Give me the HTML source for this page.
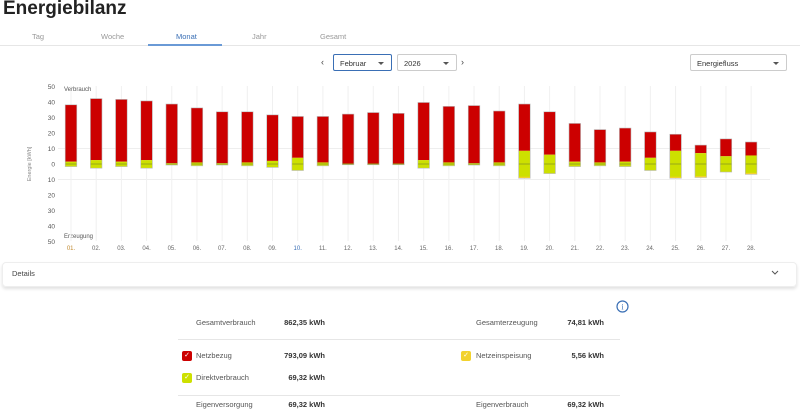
<!DOCTYPE html>
<html><head><meta charset="utf-8"><style>
body{margin:0;width:800px;height:413px;overflow:hidden;background:#fff;font-family:"Liberation Sans",sans-serif;position:relative;color:#333}
.a{position:absolute;white-space:nowrap}
.tab{font-size:7.5px;color:#999;top:32px}
.sel{position:absolute;height:17px;border:1px solid #ccc;border-radius:2px;font-size:7.5px;line-height:17px;padding-left:6px;box-sizing:border-box;color:#333}
.sel:after{content:"";position:absolute;right:7px;top:7px;border:3px solid transparent;border-top:3px solid #555}
.lab{font-size:7.5px;color:#555}
.val{font-size:7.5px;font-weight:bold;color:#333;text-align:right;width:100px}
.cb{position:absolute;width:10px;height:10px;border-radius:2px;color:#fff;font-size:7px;line-height:10px;text-align:center}
</style></head><body>
<div class="a" style="left:3px;top:-2px;font-size:19px;font-weight:bold;color:#222">Energiebilanz</div>
<div class="a tab" style="left:32px">Tag</div>
<div class="a tab" style="left:101px">Woche</div>
<div class="a tab" style="left:176px;color:#3a6fb5">Monat</div>
<div class="a tab" style="left:252px">Jahr</div>
<div class="a tab" style="left:320px">Gesamt</div>
<div class="a" style="left:0;top:45px;width:800px;height:1px;background:#e6e6e6"></div>
<div class="a" style="left:148px;top:44px;width:74px;height:2px;background:#6a9ad6"></div>
<div class="a" style="left:321px;top:57px;font-size:9px;color:#444">‹</div>
<div class="sel" style="left:333px;top:54px;width:59px;border-color:#3a6fb5">Februar</div>
<div class="sel" style="left:397px;top:54px;width:60px">2026</div>
<div class="a" style="left:461px;top:57px;font-size:9px;color:#444">›</div>
<div class="sel" style="left:690px;top:54px;width:97px">Energiefluss</div>
<svg class="a" style="left:0;top:0" width="800" height="260" id="ch"></svg>
<div class="a" style="left:2px;top:262px;width:793px;height:23px;border:1px solid #eee;border-radius:4px;box-shadow:0 2px 3px rgba(0,0,0,.12)"></div>
<div class="a" style="left:12px;top:269px;font-size:7.5px;color:#444">Details</div>
<svg class="a" style="left:771px;top:270px" width="8" height="6"><path d="M1 1l3 3 3-3" stroke="#555" fill="none"/></svg>
<svg class="a" style="left:616px;top:300px" width="13" height="13"><circle cx="6.5" cy="6.5" r="5.5" stroke="#3a6fb5" stroke-width="1.2" fill="none"/><text x="6.5" y="9.5" font-size="8" text-anchor="middle" fill="#3a6fb5" font-family="Liberation Serif">i</text></svg>
<div class="a lab" style="left:196px;top:318px">Gesamtverbrauch</div>
<div class="a val" style="left:225px;top:318px">862,35 kWh</div>
<div class="a lab" style="left:476px;top:318px">Gesamterzeugung</div>
<div class="a val" style="left:504px;top:318px">74,81 kWh</div>
<div class="a" style="left:178px;top:339px;width:442px;height:1px;background:#e6e6e6"></div>
<div class="cb" style="left:182px;top:351px;background:#c00">✓</div>
<div class="a lab" style="left:196px;top:351px">Netzbezug</div>
<div class="a val" style="left:225px;top:351px">793,09 kWh</div>
<div class="cb" style="left:461px;top:351px;background:#f2d22e">✓</div>
<div class="a lab" style="left:476px;top:351px">Netzeinspeisung</div>
<div class="a val" style="left:504px;top:351px">5,56 kWh</div>
<div class="cb" style="left:182px;top:373px;background:#cde000">✓</div>
<div class="a lab" style="left:196px;top:373px">Direktverbrauch</div>
<div class="a val" style="left:225px;top:373px">69,32 kWh</div>
<div class="a" style="left:178px;top:395px;width:442px;height:1px;background:#e6e6e6"></div>
<div class="a lab" style="left:196px;top:400px">Eigenversorgung</div>
<div class="a val" style="left:225px;top:400px">69,32 kWh</div>
<div class="a lab" style="left:476px;top:400px">Eigenverbrauch</div>
<div class="a val" style="left:504px;top:400px">69,32 kWh</div>
<script>
(function(){
var s='',y0=164,k=1.55;
function Y(v){return y0-v*k}
s+='<line x1="58" x2="770" y1="'+Y(10)+'" y2="'+Y(10)+'" stroke="#eee"/><line x1="58" x2="770" y1="'+Y(-10)+'" y2="'+Y(-10)+'" stroke="#eee"/>';
var ticks=[50,40,30,20,10,0,10,20,30,40,50];
for(var i=0;i<11;i++){s+='<text x="55" y="'+(Y(50-i*10)+2.5)+'" font-size="6.5" fill="#555" text-anchor="end">'+ticks[i]+'</text>';}
s+='<text x="64" y="91" font-size="6" fill="#555">Verbrauch</text><text x="64" y="238" font-size="6" fill="#555">Erzeugung</text>';
s+='<text transform="translate(31,164) rotate(-90)" font-size="5.5" fill="#888" text-anchor="middle">Energie [kWh]</text>';
var tp=[38,42,41.5,40.5,38.5,36,33.5,33.5,31.5,30.5,30.5,32,33,32.5,39.5,37,37.5,34,38.5,33.5,26,22,23,20.5,19,12,16,14];
var g=[1.5,2.5,1.5,2.5,.5,1,.5,1,2,4,1,.3,.3,.3,2.5,1,.5,1,8.5,6,1.5,1,1.5,4,8.5,7,5,5.5];
var b=[1.5,2.5,1.5,2.5,.5,1,.5,1,2,4,1,.3,.3,.3,2.5,1,.5,1,9,6,1.5,1,1.5,4,9,8.5,5,6.5];
for(var i=0;i<28;i++){var x=71+i*25.19;
s+='<line x1="'+x+'" x2="'+x+'" y1="86" y2="241" stroke="#f0f0f0"/>';}
for(var i=0;i<28;i++){var x=71+i*25.19;
s+='<rect x="'+(x-5.5)+'" y="'+Y(tp[i])+'" width="11" height="'+((tp[i]+b[i])*k)+'" fill="none" stroke="#bbb" stroke-width="1.2"/>';
s+='<rect x="'+(x-5.5)+'" y="'+Y(tp[i])+'" width="11" height="'+((tp[i]-g[i])*k)+'" fill="#cc0000"/>';
s+='<rect x="'+(x-5.5)+'" y="'+Y(g[i])+'" width="11" height="'+((g[i]+b[i])*k)+'" fill="#cde000"/>';
if(b[i]>g[i])s+='<rect x="'+(x-5.5)+'" y="'+(Y(-b[i])-1.2)+'" width="11" height="1.2" fill="#f2d22e"/>';
s+='<line x1="'+(x-5.5)+'" x2="'+(x+5.5)+'" y1="'+y0+'" y2="'+y0+'" stroke="#8a9a20" stroke-width="0.8"/>';
var c=(i==0)?'#c08a30':(i==9?'#3a6fb5':'#666');
s+='<text x="'+x+'" y="250" font-size="6" fill="'+c+'" text-anchor="middle">'+(i<9?'0':'')+(i+1)+'.</text>';}
document.getElementById('ch').innerHTML=s;
})();
</script>
</body></html>
